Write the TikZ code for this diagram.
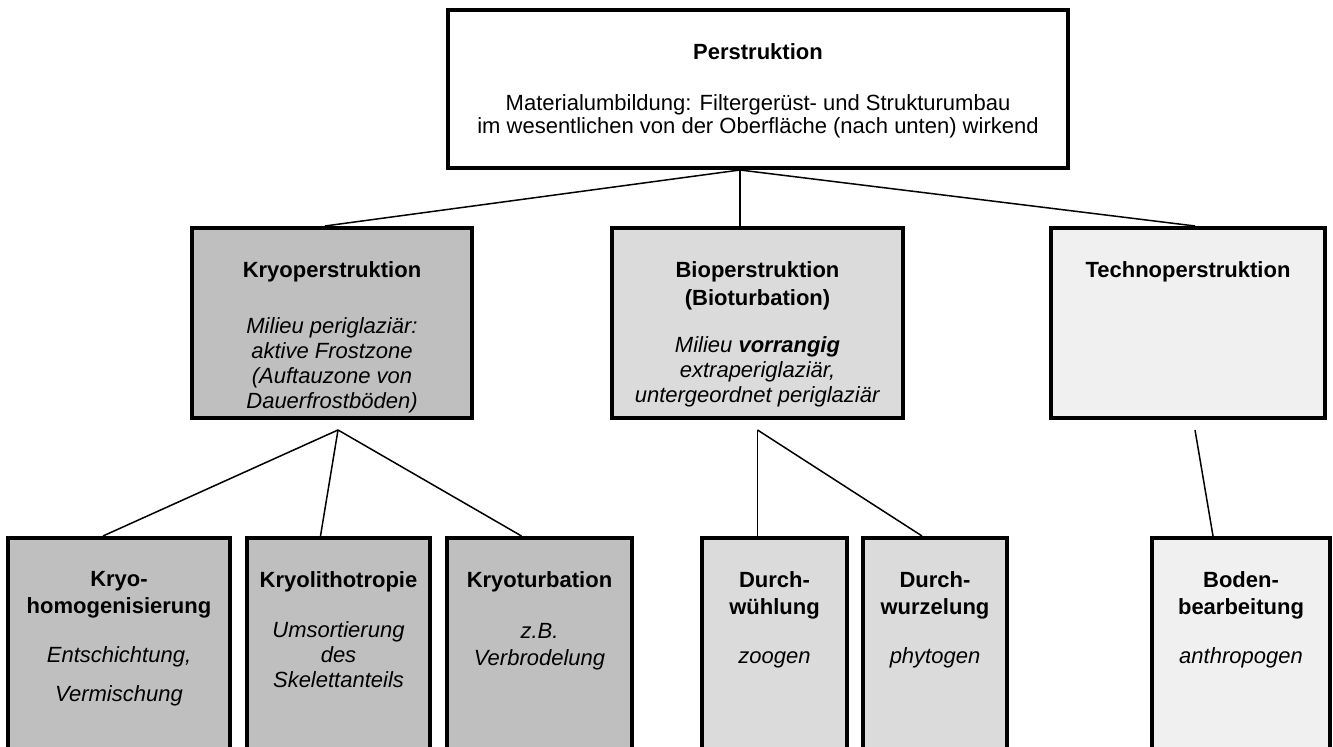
\documentclass[tikz,border=0pt]{standalone}
\usepackage{fontspec}
\setmainfont{Liberation Sans}
\usepackage{tikz}
\usetikzlibrary{positioning}
\definecolor{kryogray}{gray}{0.75}
\definecolor{biogray}{gray}{0.86}
\definecolor{technogray}{gray}{0.94}

\begin{document}
\begin{tikzpicture}[x=0.5pt, y=-0.5pt, font=\fontsize{11}{12.5}\selectfont,
  box/.style={draw=black, line width=2pt, rectangle, inner sep=0pt},
  boxtext/.style={inner sep=0pt, align=center},
  link/.style={line width=0.75pt}]
  \useasboundingbox (0,0) rectangle (1333,747);
  % Perstruktion (top)
  \node[box, fill=white, minimum width=310pt, minimum height=79pt] (per) at (758,89) {};
  \node[boxtext, below=17.5pt of per.north] (perlbl) {\textbf{Perstruktion}\\[13pt]
    Materialumbildung: Filtergerüst- und Strukturumbau\\[-1pt]
    im wesentlichen von der Oberfläche (nach unten) wirkend};
  % Second level
  \node[box, fill=kryogray, minimum width=140pt, minimum height=95pt] (kryo) at (332,323) {};
  \node[boxtext, below=17.5pt of kryo.north] (kryolbl) {\textbf{Kryoperstruktion}\\[15.5pt]
    \textit{Milieu periglaziär:}\\ \textit{aktive Frostzone}\\ \textit{(Auftauzone von}\\ \textit{Dauerfrostböden)}};
  \node[box, fill=biogray, minimum width=145.5pt, minimum height=95pt] (bio) at (757.5,323) {};
  \node[boxtext, below=17.5pt of bio.north] (biolbl) {\textbf{Bioperstruktion}\\[1.5pt] \textbf{(Bioturbation)}\\[11pt]
    \textit{Milieu \textbf{vorrangig}}\\ \textit{extraperiglaziär,}\\ \textit{untergeordnet periglaziär}};
  \node[box, fill=technogray, minimum width=137pt, minimum height=95pt] (techno) at (1188,323) {};
  \node[boxtext, below=17.5pt of techno.north] (technolbl) {\textbf{Technoperstruktion}};
  % Third level
  \node[box, fill=kryogray, minimum width=111pt, minimum height=107pt] (khomo) at (119,645) {};
  \node[boxtext, below=17.5pt of khomo.north] (khomolbl) {\textbf{Kryo-}\\[1pt] \textbf{homogenisierung}\\[12pt]
    \textit{Entschichtung,}\\[7pt] \textit{Vermischung}};
  \node[box, fill=kryogray, minimum width=91.5pt, minimum height=107pt] (klitho) at (338.5,645) {};
  \node[boxtext, below=17.5pt of klitho.north] (klitholbl) {\textbf{Kryolithotropie}\\[12.5pt]
    \textit{Umsortierung}\\ \textit{des}\\ \textit{Skelettanteils}};
  \node[box, fill=kryogray, minimum width=92.5pt, minimum height=107pt] (kturb) at (539.5,645) {};
  \node[boxtext, below=17.5pt of kturb.north] (kturblbl) {\textbf{Kryoturbation}\\[13pt]
    \textit{z.B.}\\[1pt] \textit{Verbrodelung}};
  \node[box, fill=biogray, minimum width=72.5pt, minimum height=107pt] (dwuehl) at (774.5,645) {};
  \node[boxtext, below=17.5pt of dwuehl.north] (dwuehllbl) {\textbf{Durch-}\\[1pt] \textbf{wühlung}\\[12pt] \textit{zoogen}};
  \node[box, fill=biogray, minimum width=72pt, minimum height=107pt] (dwurz) at (935,645) {};
  \node[boxtext, below=17.5pt of dwurz.north] (dwurzlbl) {\textbf{Durch-}\\[1pt] \textbf{wurzelung}\\[12pt] \textit{phytogen}};
  \node[box, fill=technogray, minimum width=89pt, minimum height=107pt] (boden) at (1241,645) {};
  \node[boxtext, below=17.5pt of boden.north] (bodenlbl) {\textbf{Boden-}\\[1pt] \textbf{bearbeitung}\\[12pt] \textit{anthropogen}};
  % Connectors
  \coordinate (perfoot) at ([xshift=-9pt]per.south);
  \draw[link] (perfoot) -- ([xshift=-3.5pt]kryo.north);
  \draw[link] (perfoot) -- (perfoot |- bio.north);
  \draw[link] (perfoot) -- ([xshift=3.5pt]techno.north);
  \coordinate (kryofork) at ([xshift=3pt, yshift=-5pt]kryo.south);
  \draw[link] (kryofork) -- ([xshift=-8pt]khomo.north);
  \draw[link] (kryofork) -- ([xshift=-9pt]klitho.north);
  \draw[link] (kryofork) -- ([xshift=-9pt]kturb.north);
  \coordinate (biofork) at ([yshift=-5pt]bio.south);
  \draw[link] (biofork) -- (biofork |- dwuehl.north);
  \draw[link] (biofork) -- ([xshift=-6.5pt]dwurz.north);
  \coordinate (technofork) at ([xshift=3.5pt, yshift=-5pt]techno.south);
  \draw[link] (technofork) -- ([xshift=-14pt]boden.north);
\end{tikzpicture}
\end{document}
